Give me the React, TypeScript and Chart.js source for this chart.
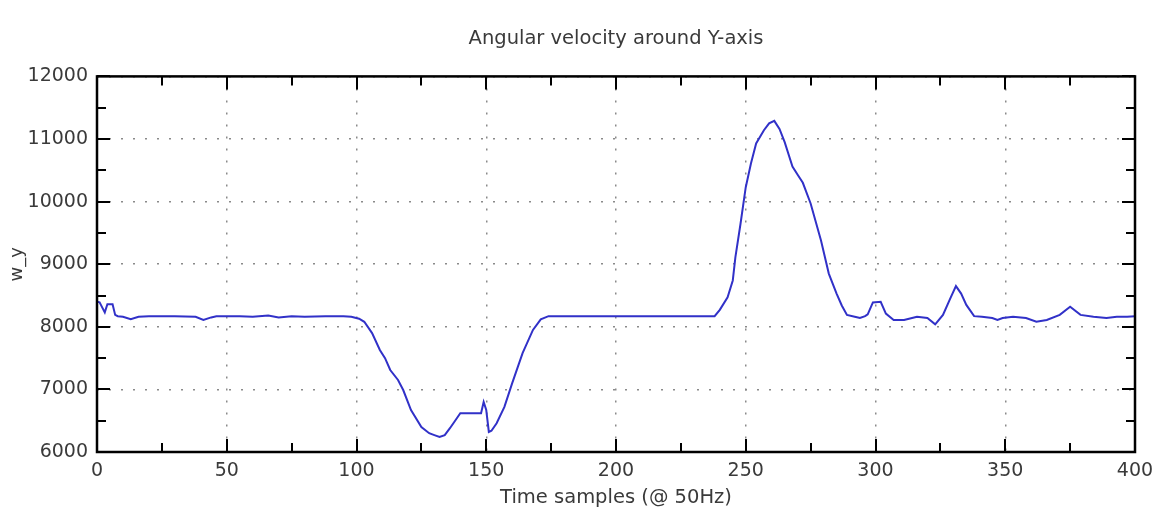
import React, { useEffect, useRef } from "react";
import { Chart, registerables } from "chart.js";

Chart.register(...registerables);

// Gyroscope reading w_y, sampled at 50 Hz
const sampleIndex = [
  0, 1, 3, 4, 6, 7, 8, 10, 13, 16, 20, 30, 38, 41, 44, 46, 55, 60, 66, 70, 75, 80, 88, 95, 98,
  101, 103, 106, 109, 111, 113, 116, 118, 121, 125, 128, 130, 132, 134, 136, 138, 140, 144, 148,
  149, 150, 151, 152, 154, 157, 160, 164, 168, 171, 174, 200, 238, 240, 243, 245, 246, 248, 250,
  252, 254, 257, 259, 261, 263, 265, 268, 270, 272, 275, 279, 282, 285, 287, 289, 292, 294, 296,
  297, 299, 302, 304, 307, 311, 316, 320, 323, 326, 329, 331, 333, 335, 338, 341, 345, 347, 349,
  353, 358, 362, 366, 371, 375, 379, 384, 389, 393, 397, 400,
];
const angularVelocityY = [
  8400, 8390, 8230, 8360, 8360, 8190, 8170, 8160, 8120, 8160, 8170, 8170, 8160, 8110, 8150, 8170,
  8170, 8160, 8180, 8150, 8170, 8160, 8170, 8170, 8160, 8130, 8080, 7900, 7630, 7500, 7310, 7150,
  6990, 6670, 6400, 6300, 6270, 6240, 6270, 6380, 6500, 6620, 6620, 6620, 6800, 6670, 6320, 6340,
  6460, 6720, 7100, 7580, 7950, 8120, 8170, 8170, 8170, 8270, 8470, 8740, 9110, 9650, 10230, 10610,
  10930, 11140, 11250, 11290, 11160, 10950, 10560, 10430, 10300, 9970, 9380, 8850, 8530, 8340, 8190,
  8160, 8140, 8170, 8200, 8390, 8400, 8210, 8110, 8110, 8160, 8140, 8040, 8190, 8470, 8650, 8530,
  8350, 8170, 8160, 8140, 8110, 8140, 8160, 8140, 8080, 8110, 8190, 8320, 8190, 8160, 8140, 8160,
  8160, 8170,
];

const xTickStep = 50;
const xMinorStep = 25;
const yTickStep = 1000;
const yMinorStep = 500;

const FONT = "'DejaVu Sans', Verdana, sans-serif";
const TEXT_COLOR = "#3a3a3a";

// Black frame with inward-pointing major and minor ticks on all four sides
const frameTicks = {
  id: "frameTicks",
  afterDraw(chart: any) {
    const { ctx, chartArea, scales } = chart;
    const { left, right, top, bottom } = chartArea;
    const xs = scales.x;
    const ys = scales.y;
    ctx.save();
    ctx.strokeStyle = "#000";
    ctx.lineWidth = 2;
    ctx.beginPath();
    for (let v = xs.min; v <= xs.max; v += xMinorStep) {
      const px = Math.round(xs.getPixelForValue(v));
      const len = v % xTickStep === 0 ? 13 : 9;
      ctx.moveTo(px, bottom);
      ctx.lineTo(px, bottom - len);
      ctx.moveTo(px, top);
      ctx.lineTo(px, top + len);
    }
    for (let v = ys.min; v <= ys.max; v += yMinorStep) {
      const py = Math.round(ys.getPixelForValue(v));
      const len = v % yTickStep === 0 ? 13 : 9;
      ctx.moveTo(left, py);
      ctx.lineTo(left + len, py);
      ctx.moveTo(right, py);
      ctx.lineTo(right - len, py);
    }
    ctx.stroke();
    ctx.lineWidth = 2.5;
    ctx.strokeRect(left, top, right - left, bottom - top);
    ctx.restore();
  },
};

const plainNumber = (value: any) => String(value);

export default function App() {
  const canvasRef = useRef<HTMLCanvasElement | null>(null);

  useEffect(() => {
    if (!canvasRef.current) return;
    const points = sampleIndex.map((x, i) => ({ x, y: angularVelocityY[i] }));
    const chart = new Chart(canvasRef.current, {
      type: "scatter",
      data: {
        datasets: [
          {
            data: points,
            showLine: true,
            borderColor: "#3131c8",
            borderWidth: 2,
            pointRadius: 0,
            tension: 0,
          },
        ],
      },
      options: {
        animation: false,
        responsive: false,
        layout: { padding: { left: 0, right: 0, top: 0, bottom: 0 } },
        plugins: {
          legend: { display: false },
          tooltip: { enabled: false },
          title: {
            display: true,
            text: "Angular velocity around Y-axis",
            fullSize: false,
            color: TEXT_COLOR,
            font: { family: FONT, size: 19.5, weight: "normal" },
            padding: { top: 27, bottom: 26 },
          },
        },
        scales: {
          x: {
            type: "linear",
            min: 0,
            max: 400,
            afterFit(scale: any) {
              scale.height = 75;
              scale.paddingLeft = 0;
              scale.paddingRight = 23;
            },
            ticks: {
              stepSize: xTickStep,
              padding: 8,
              color: TEXT_COLOR,
              font: { family: FONT, size: 19 },
              callback: plainNumber,
            },
            grid: { color: "#8a8a8a", lineWidth: 1.5, drawTicks: false },
            border: { display: false, dash: [2, 10] },
            title: {
              display: true,
              text: "Time samples (@ 50Hz)",
              color: TEXT_COLOR,
              font: { family: FONT, size: 19.5 },
              padding: { top: 0, bottom: 17 },
            },
          },
          y: {
            type: "linear",
            min: 6000,
            max: 12000,
            afterFit(scale: any) {
              scale.width = 97;
            },
            ticks: {
              stepSize: yTickStep,
              padding: 9,
              color: TEXT_COLOR,
              font: { family: FONT, size: 19 },
              callback: plainNumber,
            },
            grid: { color: "#8a8a8a", lineWidth: 1.5, drawTicks: false },
            border: { display: false, dash: [2, 10] },
            title: {
              display: true,
              text: "w_y",
              color: TEXT_COLOR,
              font: { family: FONT, size: 18 },
              padding: { top: 7, bottom: 0 },
            },
          },
        },
      },
      plugins: [frameTicks],
    });
    return () => chart.destroy();
  }, []);

  return (
    <div style={{ position: "fixed", left: 0, top: 0, width: 1158, height: 527, background: "#fff" }}>
      <canvas ref={canvasRef} width={1158} height={527} />
    </div>
  );
}
